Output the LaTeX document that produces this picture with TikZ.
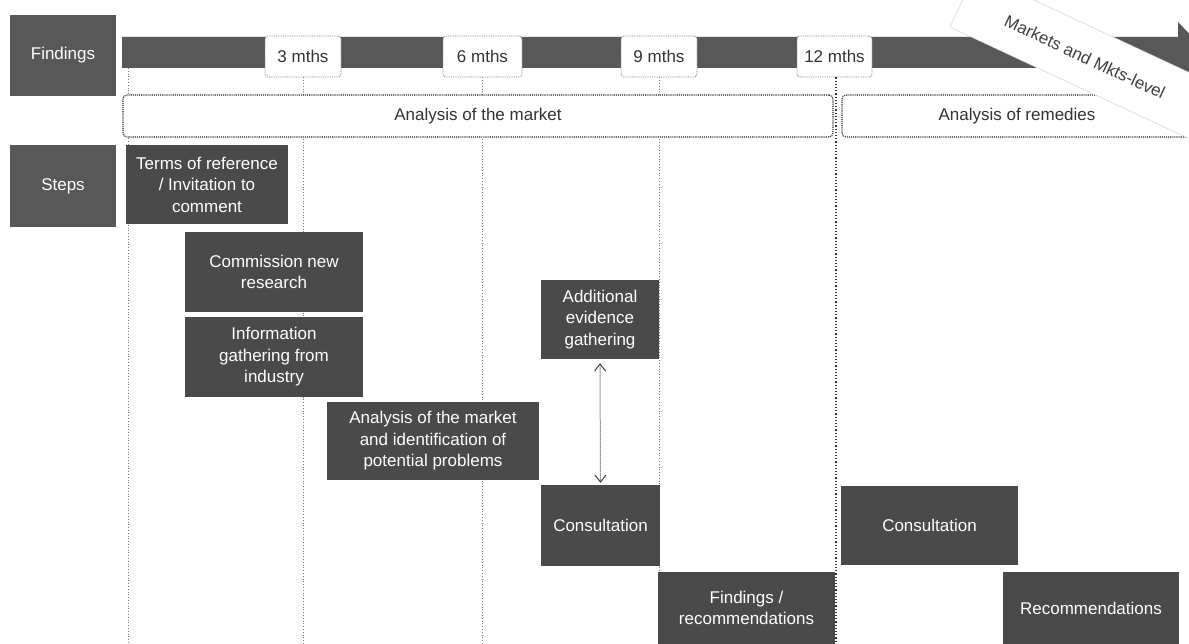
\documentclass[tikz,border=0pt]{standalone}
\usepackage{fontspec}
\setmainfont{Liberation Sans}
\usetikzlibrary{arrows.meta}
\definecolor{stepc}{HTML}{4A4A4A}
\definecolor{labc}{HTML}{585858}
\definecolor{barc}{HTML}{585858}
\definecolor{linec}{HTML}{7A7A7A}
\tikzset{
  txt/.style={font=\fontsize{17}{21.5}\selectfont},
  labelbox/.style={txt, fill=labc, text=white, inner sep=0pt, minimum width=106pt},
  stepbox/.style={txt, fill=stepc, text=white, inner sep=0pt, align=center},
  milebox/.style={txt, fill=white, draw=linec, densely dotted, line width=0.8pt, rounded corners=3pt, inner sep=0pt, minimum height=41pt, text=black!80},
  phasebox/.style={txt, fill=white, draw=black!85, densely dotted, line width=1.1pt, rounded corners=4pt, inner sep=0pt, minimum height=42pt, text=black!80},
  vline/.style={draw=linec, dotted, line width=0.8pt},
  vlinebold/.style={draw=black!80, dotted, line width=1.2pt},
  darrow/.style={draw=black!75, densely dotted, line width=1pt, {Straight Barb[length=7pt,width=11pt]}-{Straight Barb[length=7pt,width=11pt]}},
}
\begin{document}
\begin{tikzpicture}[x=1pt,y=-1pt]
\useasboundingbox (0,0) rectangle (1189,644);
\clip (0,0) rectangle (1189,644);
\fill[white] (0,0) rectangle (1189,644);

% timeline bar
\fill[barc] (122,37) -- (1178,37) -- (1178,22) -- (1207,52.5) -- (1178,83) -- (1178,68) -- (122,68) -- cycle;

% row labels
\node[labelbox, minimum height=81pt] (findL) at (63,55.5) {Findings};
\node[labelbox, minimum height=82pt] (stepsL) at (63,186) {Steps};

% milestones
\node[milebox, minimum width=76pt] (m3) at (303,56.5) {3 mths};
\node[milebox, minimum width=79pt] (m6) at (482.5,56.5) {6 mths};
\node[milebox, minimum width=76pt] (m9) at (659,56.5) {9 mths};
\node[milebox, minimum width=75pt] (m12) at (834.5,56.5) {12 mths};

% vertical guide lines
\coordinate (l0top) at (128,68);
\coordinate (l0end) at (128,644);
\coordinate (l3end) at (303,644);
\coordinate (l6end) at (482.5,644);
\coordinate (l9end) at (659,644);
\coordinate (l12end) at (836,644);
\draw[vline] (l0top) -- (l0end);
\draw[vline] (m3.south) -- (l3end);
\draw[vline] (m6.south) -- (l6end);
\draw[vline] (m9.south) -- (l9end);
\draw[vlinebold] (m12.south -| l12end) -- (l12end);

% phase boxes
\node[phasebox, minimum width=710pt] (pmarket) at (478,116) {Analysis of the market};
\node[phasebox, minimum width=360pt] (premed) at (1022,116) {};
\node[txt, text=black!80, inner sep=0pt] (premedt) at (1017,116) {Analysis of remedies};

% rotated label
\node[txt, fill=white, draw=black!20, rotate=-25, minimum width=270pt, minimum height=60pt, text=black!75, inner sep=0pt] (rot) at (1085,57) {Markets and Mkts-level};

% steps
\node[stepbox, minimum width=162pt, minimum height=79pt] (terms) at (207,184.5) {Terms of reference\\/ Invitation to\\comment};
\node[stepbox, minimum width=178pt, minimum height=80pt] (comm) at (274,272) {Commission new\\research};
\node[stepbox, minimum width=178pt, minimum height=80pt] (info) at (274,357) {Information\\gathering from\\industry};
\node[stepbox, minimum width=212pt, minimum height=78pt] (anam) at (433,441) {Analysis of the market\\and identification of\\potential problems};
\node[stepbox, minimum width=118pt, minimum height=79pt] (addl) at (600,319.5) {Additional\\evidence\\gathering};
\node[stepbox, minimum width=119pt, minimum height=81pt] (cons1) at (600.5,525.5) {Consultation};
\node[stepbox, minimum width=177pt, minimum height=72pt] (findrec) at (746.5,608) {Findings /\\recommendations};
\node[stepbox, minimum width=177pt, minimum height=79pt] (cons2) at (929.5,525.5) {Consultation};
\node[stepbox, minimum width=176pt, minimum height=72pt] (recom) at (1091,608) {Recommendations};

% double arrow
\draw[darrow, shorten <=4pt, shorten >=2pt] (addl.south) -- (cons1.north);
\end{tikzpicture}
\end{document}
